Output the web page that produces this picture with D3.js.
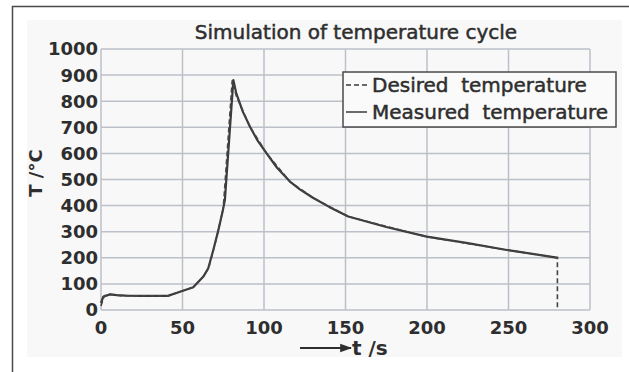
<!DOCTYPE html>
<html>
<head>
<meta charset="utf-8">
<script src="https://cdn.jsdelivr.net/npm/d3@7"></script>
<style>
  body { margin: 0; background: #fff; }
  svg text { font-family: "DejaVu Sans", Verdana, sans-serif; fill: #2e2e2e; }
</style>
</head>
<body>
<div id="chart"></div>
<script>
// measured temperature
const measT = [0, 1.4, 5.5, 9.6, 15, 25, 41, 48.5, 56.6, 62.8, 65.8, 68.9, 72, 74.6, 76, 81.2, 83, 87, 91.4, 96, 101.6, 108, 115.9, 122, 130, 140, 151.7, 175, 199.8, 225, 249, 280.5];
const measV = [26, 51, 60, 57, 55, 54, 54, 70, 87, 128, 160, 230, 306, 377, 421, 881, 830, 760, 702, 650, 600, 545, 492, 462, 430, 395, 358, 318, 281, 256, 230, 200];
// desired temperature (set point), nearly on top of the measured one, drops at the end
const desT = [0, 2, 6, 12, 41, 48.5, 56.6, 62.8, 66, 69, 72, 75, 80.5, 83, 91.4, 101.6, 115.9, 130, 151.7, 199.8, 249, 280, 280];
const desV = [15, 55, 60, 55, 54, 70, 87, 128, 160, 230, 306, 390, 880, 820, 702, 600, 492, 430, 358, 281, 230, 200, 0];
const xTicks = [0, 50, 100, 150, 200, 250, 300];
const yTicks = [0, 100, 200, 300, 400, 500, 600, 700, 800, 900, 1000];
const legendItems = [['dash', 'Desired  temperature'], ['solid', 'Measured  temperature']];

const W = 629, H = 372;
const margin = { top: 49, right: 39, bottom: 62, left: 101 };
const width = W - margin.left - margin.right;
const height = H - margin.top - margin.bottom;

const svg = d3.select('#chart').append('svg').attr('width', W).attr('height', H);

// outer frame (cut off at right and bottom in the source)
svg.append('rect').attr('x', 27).attr('y', 20).attr('width', 595).attr('height', 337).attr('fill', '#f8f8f8');
svg.append('rect').attr('x', 12.5).attr('y', 6.5).attr('width', 640).attr('height', 400)
  .attr('fill', 'none').attr('stroke', '#4a4a4a').attr('stroke-width', 1.5);

const g = svg.append('g').attr('transform', `translate(${margin.left},${margin.top})`);

const x = d3.scaleLinear().domain([0, 300]).range([0, width]);
const y = d3.scaleLinear().domain([0, 1000]).range([height, 0]);

// grid
g.append('g').selectAll('line').data(xTicks).enter().append('line')
  .attr('x1', d => x(d)).attr('x2', d => x(d)).attr('y1', 0).attr('y2', height)
  .attr('stroke', '#bcc0c8').attr('stroke-width', 1.5);
g.append('g').selectAll('line').data(yTicks).enter().append('line')
  .attr('x1', 0).attr('x2', width).attr('y1', d => y(d)).attr('y2', d => y(d))
  .attr('stroke', '#bcc0c8').attr('stroke-width', 1.5);

// tick labels
g.append('g').selectAll('text').data(yTicks).enter().append('text')
  .attr('x', -3).attr('y', d => y(d)).attr('dy', '0.36em').attr('text-anchor', 'end')
  .style('font-size', '18px').style('font-weight', 'bold').text(d => d);
g.append('g').selectAll('text').data(xTicks).enter().append('text')
  .attr('x', d => x(d)).attr('y', height + 18).attr('dy', '0.36em').attr('text-anchor', 'middle')
  .style('font-size', '18px').style('font-weight', 'bold').text(d => d);

// title and axis labels
svg.append('text').attr('x', 356).attr('y', 39).attr('text-anchor', 'middle')
  .style('font-size', '20px').style('stroke', '#2e2e2e').style('stroke-width', 0.5)
  .text('Simulation of temperature cycle');
svg.append('text').attr('transform', 'translate(42,173) rotate(-90)').attr('text-anchor', 'middle')
  .style('font-size', '18px').style('font-weight', 'bold').text('T /°C');

const defs = svg.append('defs');
defs.append('marker').attr('id', 'arr').attr('viewBox', '0 0 10 10').attr('refX', 9).attr('refY', 5)
  .attr('markerWidth', 6).attr('markerHeight', 6).attr('markerUnits', 'strokeWidth').attr('orient', 'auto')
  .append('path').attr('d', 'M0,1.5 L10,5 L0,8.5 Z').attr('fill', '#2e2e2e');
svg.append('line').attr('x1', 300).attr('x2', 351).attr('y1', 348).attr('y2', 348)
  .attr('stroke', '#2e2e2e').attr('stroke-width', 2).attr('marker-end', 'url(#arr)');
svg.append('text').attr('x', 352).attr('y', 355)
  .style('font-size', '20px').style('font-weight', 'bold').text('t /s');

// lines
const line = d3.line().x(d => x(d[0])).y(d => y(d[1]));
g.append('path').datum(measT.map((t, i) => [t, measV[i]])).attr('d', line)
  .attr('fill', 'none').attr('stroke', '#3a3a3a').attr('stroke-width', 2.2).attr('stroke-linejoin', 'round');
g.append('path').datum(desT.map((t, i) => [t, desV[i]])).attr('d', line)
  .attr('fill', 'none').attr('stroke', '#444').attr('stroke-width', 1.6).attr('stroke-dasharray', '5,3');

// legend
const lg = svg.append('g').attr('transform', 'translate(343,72)');
lg.append('rect').attr('width', 273).attr('height', 55).attr('fill', '#fafafa')
  .attr('stroke', '#4a4a4a').attr('stroke-width', 1.5);
legendItems.forEach((it, i) => {
  const row = lg.append('g').attr('transform', `translate(0,${13 + i * 27})`);
  row.append('line').attr('x1', 3).attr('x2', 24).attr('y1', 0).attr('y2', 0)
    .attr('stroke', '#3a3a3a').attr('stroke-width', 1.5)
    .attr('stroke-dasharray', it[0] === 'dash' ? '5,3' : null);
  row.append('text').attr('x', 29).attr('y', 0).attr('dy', '0.36em')
    .style('white-space', 'pre')
    .style('font-size', '20px').style('stroke', '#2e2e2e').style('stroke-width', 0.5).text(it[1]);
});
</script>
</body>
</html>
